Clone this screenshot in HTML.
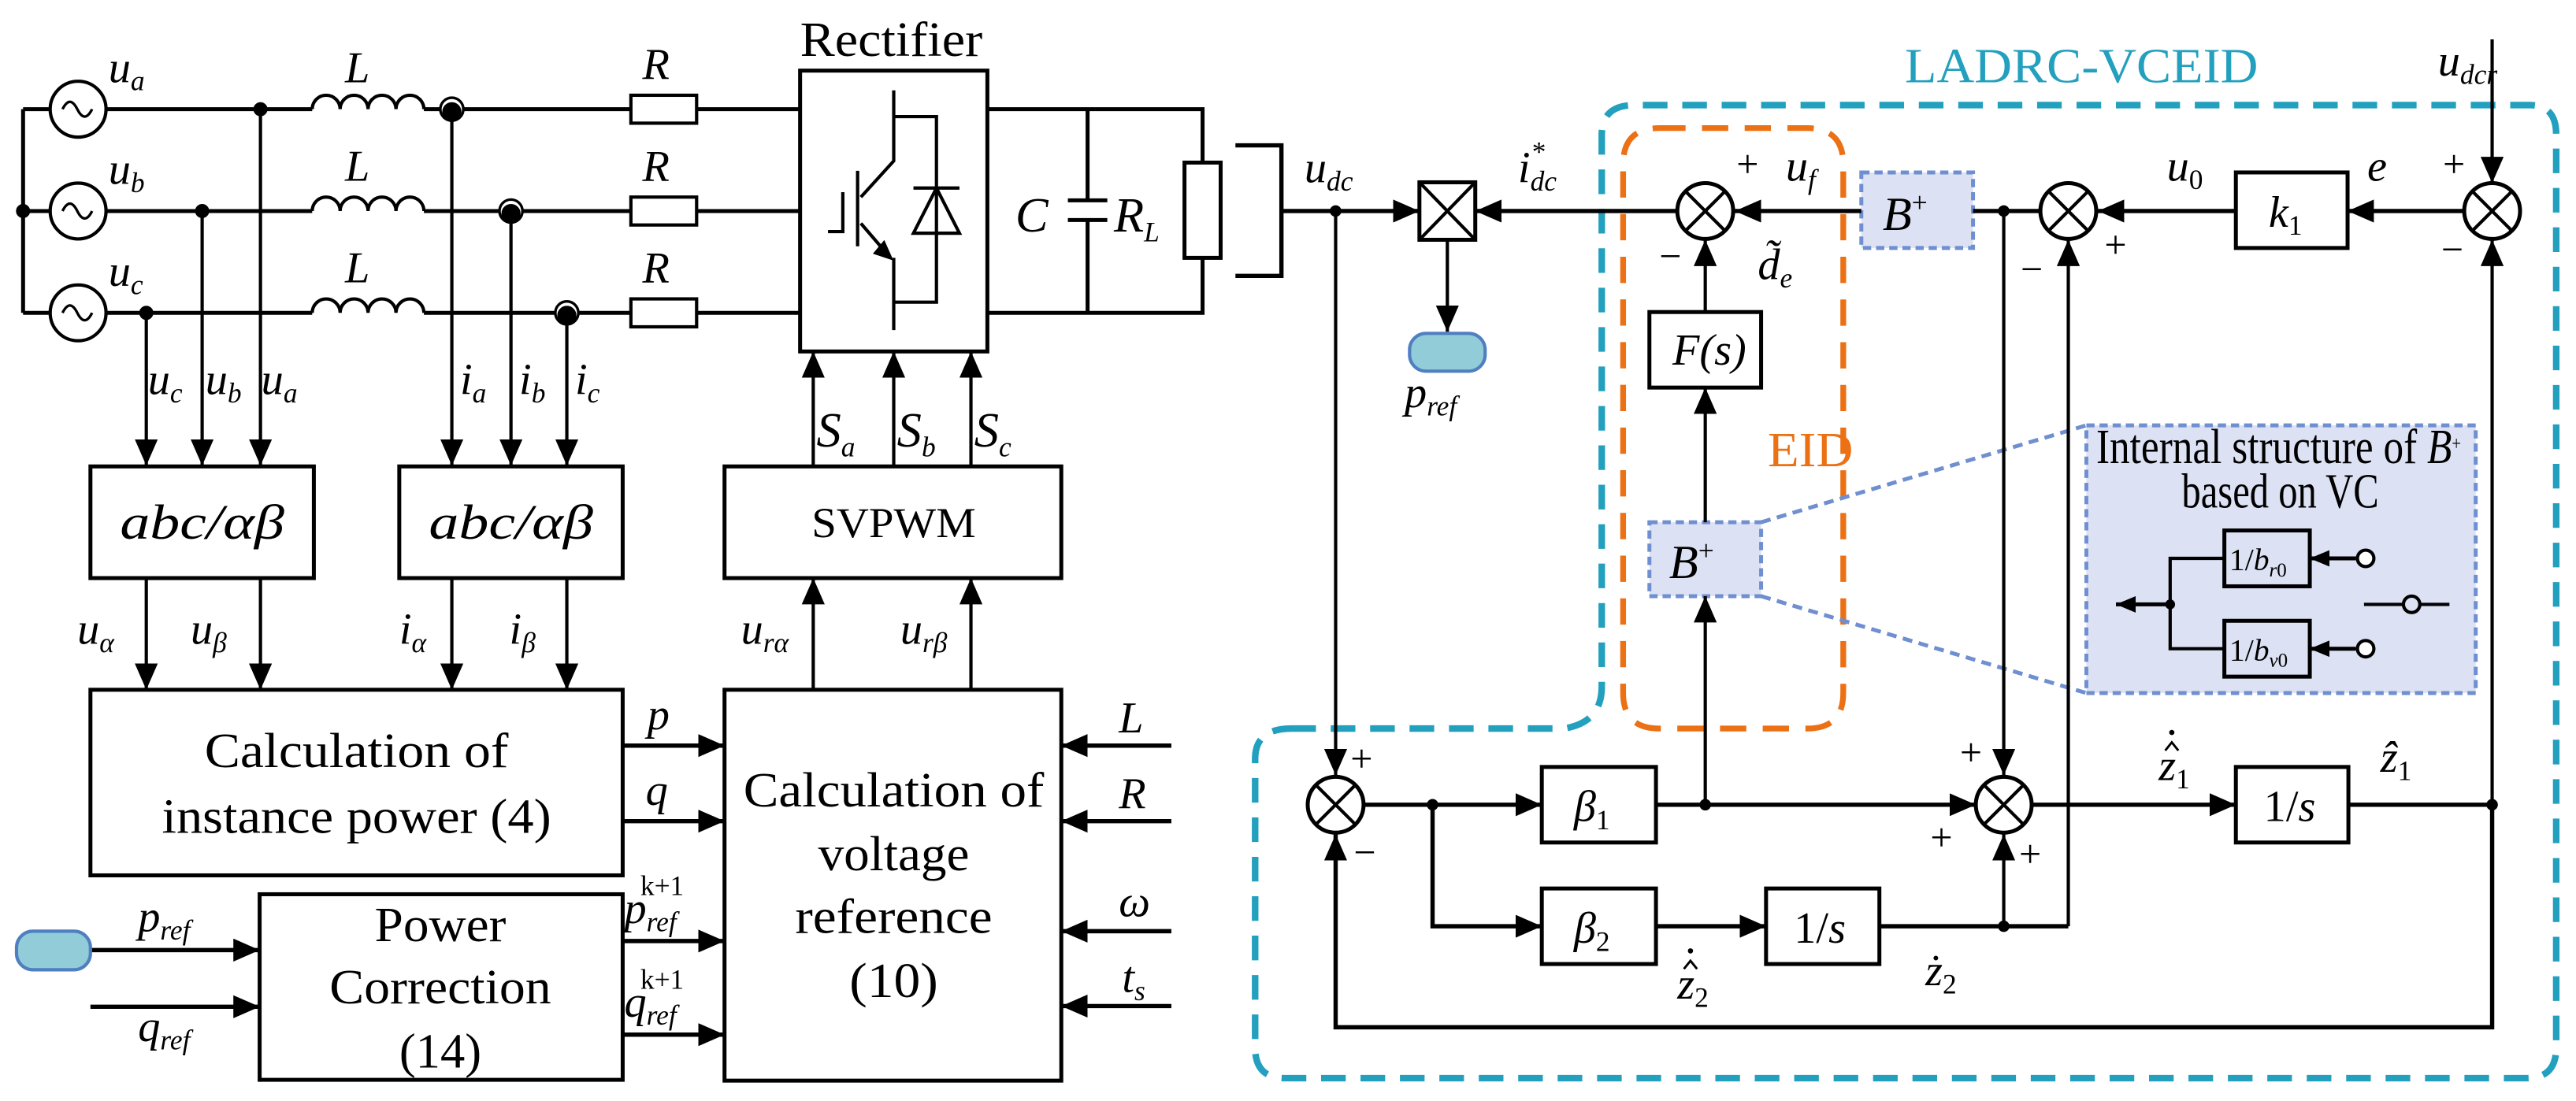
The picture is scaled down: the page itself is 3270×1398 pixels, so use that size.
<!DOCTYPE html>
<html><head><meta charset="utf-8"><style>
html,body{margin:0;padding:0;background:#fff}
svg{display:block}
.m{font-family:"Liberation Serif",serif;font-style:italic;font-size:27px}
.s{font-size:17px}
.t{font-family:"Liberation Serif",serif;font-size:30px}
</style></head><body>
<svg width="3270" height="1398" viewBox="0 0 1568 670.4" xmlns="http://www.w3.org/2000/svg">
<defs>
<marker id="a" markerWidth="16" markerHeight="14" refX="16" refY="7" orient="auto" markerUnits="userSpaceOnUse"><path d="M0,0 L16,7 L0,14z" fill="#000"/></marker>
<marker id="b" markerWidth="12" markerHeight="10" refX="12" refY="5" orient="auto" markerUnits="userSpaceOnUse"><path d="M0,0 L12,5 L0,10z" fill="#000"/></marker>
</defs>
<g fill="none" stroke="#000" stroke-width="2">
<path d="M14,66.5 V190.5 M14,66.5 H190 M258,66.5 H384 M424,66.5 H487 M14,128.5 H190 M258,128.5 H384 M424,128.5 H487 M14,190.5 H190 M258,190.5 H384 M424,190.5 H487" stroke-width="2.4"/>
<circle cx="47.5" cy="66.5" r="17" fill="#fff"/><circle cx="47.5" cy="128.5" r="17" fill="#fff"/><circle cx="47.5" cy="190.5" r="17" fill="#fff"/>
<path d="M38,66.5 q4.5,-9 9,0 t9,0 M38,128.5 q4.5,-9 9,0 t9,0 M38,190.5 q4.5,-9 9,0 t9,0" stroke-width="1.6"/>
<path d="M190,66.5 a8.5,8.5 0 0 1 17,0 a8.5,8.5 0 0 1 17,0 a8.5,8.5 0 0 1 17,0 a8.5,8.5 0 0 1 17,0"/>
<path d="M190,128.5 a8.5,8.5 0 0 1 17,0 a8.5,8.5 0 0 1 17,0 a8.5,8.5 0 0 1 17,0 a8.5,8.5 0 0 1 17,0"/>
<path d="M190,190.5 a8.5,8.5 0 0 1 17,0 a8.5,8.5 0 0 1 17,0 a8.5,8.5 0 0 1 17,0 a8.5,8.5 0 0 1 17,0"/>
<rect x="384" y="58" width="40" height="17" fill="#fff"/><rect x="384" y="120" width="40" height="17" fill="#fff"/><rect x="384" y="182" width="40" height="17" fill="#fff"/>
<g marker-end="url(#a)">
<path d="M158.5,66.5 V283.5"/><path d="M123,128.5 V283.5"/><path d="M89,190.5 V283.5"/>
<path d="M275,66.5 V283.5"/><path d="M311,128.5 V283.5"/><path d="M345,190.5 V283.5"/>
<path d="M495,284 V214"/><path d="M544,284 V214"/><path d="M591,284 V214"/>
<path d="M89,352 V420"/><path d="M158.5,352 V420"/><path d="M275,352 V420"/><path d="M345,352 V420"/>
<path d="M495,420 V352"/><path d="M591,420 V352"/>
</g>
<rect x="487" y="43" width="114" height="171" stroke-width="2.4"/>
<path d="M544,55 V98 L524,120 M522,104 V150 M513,117 V141 H504 M524,136 L542,157 M544,157 V201 M544,71 H570 V184 H544 M556,114.5 H584 M570,114.5 L556,142 H584 Z"/>
<path d="M542,157 l-9,-3 l5,-6 z" fill="#000"/>
<path d="M601,66.5 H732 V99 M732,157 V190.5 H601 M662,66.5 V122 M662,134 V190.5 M650,122 H674 M650,134 H674" stroke-width="2.4"/>
<rect x="721" y="99" width="22" height="58" fill="#fff" stroke-width="2.4"/>
<path d="M752,88.5 H780 V168 H752" stroke-width="2.6"/>
<rect x="55" y="284" width="136" height="68" stroke-width="2.4"/>
<rect x="243" y="284" width="136" height="68" stroke-width="2.4"/>
<rect x="441" y="284" width="205" height="68" stroke-width="2.4"/>
<rect x="55" y="420" width="324" height="113" stroke-width="2.4"/>
<rect x="441" y="420" width="205" height="238" stroke-width="2.4"/>
<rect x="158" y="544.5" width="221" height="113" stroke-width="2.4"/>
<g stroke-width="2.6" marker-end="url(#a)">
<path d="M379,454 H441"/><path d="M379,500 H441"/><path d="M379,573 H441"/><path d="M379,630 H441"/>
<path d="M713,454 H646"/><path d="M713,500 H646"/><path d="M713,567 H646"/><path d="M713,612.6 H646"/>
<path d="M55,578.5 H158"/><path d="M55,613 H158"/>
</g>
</g>
<g stroke="#000" stroke-width="1.6">
<circle cx="158.5" cy="66.5" r="3.5" fill="#000"/><circle cx="123" cy="128.5" r="3.5" fill="#000"/><circle cx="89" cy="190.5" r="3.5" fill="#000"/><circle cx="14" cy="128.5" r="3.5" fill="#000"/>
<circle cx="275" cy="66.5" r="7" fill="#fff"/><circle cx="275" cy="68" r="5" fill="#000"/>
<circle cx="311" cy="128.5" r="7" fill="#fff"/><circle cx="311" cy="130" r="5" fill="#000"/>
<circle cx="345" cy="190.5" r="7" fill="#fff"/><circle cx="345" cy="192" r="5" fill="#000"/>
</g>
<rect x="10" y="567" width="45" height="23.5" rx="10" fill="#92ccd9" stroke="#4f7fc0" stroke-width="2"/>
<text x="487" y="34" class="t" font-size="25" textLength="111" lengthAdjust="spacingAndGlyphs">Rectifier</text>
<g class="m">
<text x="66" y="50">u<tspan class="s" dy="5">a</tspan></text>
<text x="66" y="112">u<tspan class="s" dy="5">b</tspan></text>
<text x="66" y="174">u<tspan class="s" dy="5">c</tspan></text>
<text x="210" y="50">L</text><text x="210" y="110">L</text><text x="210" y="172">L</text>
<text x="391" y="48">R</text><text x="391" y="110">R</text><text x="391" y="172">R</text>
<text x="618" y="141" font-size="30">C</text>
<text x="678" y="141" font-size="30">R<tspan class="s" dy="6">L</tspan></text>
<text x="90" y="240">u<tspan class="s" dy="5">c</tspan></text>
<text x="125" y="240">u<tspan class="s" dy="5">b</tspan></text>
<text x="159" y="240">u<tspan class="s" dy="5">a</tspan></text>
<text x="280" y="240">i<tspan class="s" dy="5">a</tspan></text>
<text x="316" y="240">i<tspan class="s" dy="5">b</tspan></text>
<text x="350" y="240">i<tspan class="s" dy="5">c</tspan></text>
<text x="497" y="272" font-size="30">S<tspan class="s" dy="6">a</tspan></text>
<text x="546" y="272" font-size="30">S<tspan class="s" dy="6">b</tspan></text>
<text x="593" y="272" font-size="30">S<tspan class="s" dy="6">c</tspan></text>
<text x="47" y="392">u<tspan class="s" dy="5">α</tspan></text>
<text x="116" y="392">u<tspan class="s" dy="5">β</tspan></text>
<text x="243" y="392">i<tspan class="s" dy="5">α</tspan></text>
<text x="310" y="392">i<tspan class="s" dy="5">β</tspan></text>
<text x="451" y="392">u<tspan class="s" dy="5">rα</tspan></text>
<text x="548" y="392">u<tspan class="s" dy="5">rβ</tspan></text>
<text x="394" y="444">p</text><text x="393" y="490">q</text>
<text x="380" y="562">p<tspan class="s" dy="5">ref</tspan><tspan class="s" font-style="normal" dx="-22" dy="-22">k+1</tspan></text>
<text x="380" y="619">q<tspan class="s" dy="5">ref</tspan><tspan class="s" font-style="normal" dx="-22" dy="-22">k+1</tspan></text>
<text x="84" y="567">p<tspan class="s" dy="5">ref</tspan></text>
<text x="84" y="634">q<tspan class="s" dy="5">ref</tspan></text>
<text x="681" y="446">L</text><text x="681" y="492">R</text><text x="681" y="558">ω</text><text x="683" y="604">t<tspan class="s" dy="5">s</tspan></text>
</g>
<g class="t" text-anchor="middle">
<text x="123" y="328" font-style="italic" font-size="30" textLength="100" lengthAdjust="spacingAndGlyphs">abc/αβ</text>
<text x="311" y="328" font-style="italic" font-size="30" textLength="100" lengthAdjust="spacingAndGlyphs">abc/αβ</text>
<text x="544" y="327" font-size="26" textLength="100" lengthAdjust="spacingAndGlyphs">SVPWM</text>
<text x="217" y="467" textLength="185" lengthAdjust="spacingAndGlyphs">Calculation of</text>
<text x="217" y="507" textLength="237" lengthAdjust="spacingAndGlyphs">instance power (4)</text>
<text x="544" y="491" textLength="183" lengthAdjust="spacingAndGlyphs">Calculation of</text>
<text x="544" y="530" textLength="92" lengthAdjust="spacingAndGlyphs">voltage</text>
<text x="544" y="568" textLength="120" lengthAdjust="spacingAndGlyphs">reference</text>
<text x="544" y="607" textLength="54" lengthAdjust="spacingAndGlyphs">(10)</text>
<text x="268" y="573" textLength="80" lengthAdjust="spacingAndGlyphs">Power</text>
<text x="268" y="611" textLength="135" lengthAdjust="spacingAndGlyphs">Correction</text>
<text x="268" y="650" textLength="50" lengthAdjust="spacingAndGlyphs">(14)</text>
</g>

<!-- RIGHT PART -->
<path d="M786,443.6 H952 Q975,440 975,418 V82 Q975,64 995,64 H1540 Q1556,64 1556,82 V638 Q1556,656.5 1538,656.5 H782 Q764,656.5 764,638 V462 Q764,443.6 786,443.6" fill="none" stroke="#22a0be" stroke-width="4" stroke-dasharray="15,9"/>
<path d="M1010,78 H1100 Q1122,78 1122,100 V422 Q1122,443.6 1100,443.6 H1010 Q988,443.6 988,422 V100 Q988,78 1010,78" fill="none" stroke="#ec7014" stroke-width="3.5" stroke-dasharray="16,10"/>
<text x="1267" y="50" class="t" fill="#22a0be" text-anchor="middle" textLength="215" lengthAdjust="spacingAndGlyphs">LADRC-VCEID</text>
<text x="1076" y="284" class="t" fill="#ec7014" font-size="28" textLength="52" lengthAdjust="spacingAndGlyphs">EID</text>
<path d="M1072,318 L1270,259 M1072,363 L1270,422" stroke="#6f8fd0" stroke-width="2.4" stroke-dasharray="6,4"/>
<rect x="1270" y="259" width="237" height="163" fill="#dce1f3" stroke="#6f8fd0" stroke-width="2.4" stroke-dasharray="5,3"/>
<rect x="1133" y="105" width="68" height="46" fill="#dce1f3" stroke="#6f8fd0" stroke-width="2.4" stroke-dasharray="5,3"/>
<rect x="1004" y="318" width="68" height="45" fill="#dce1f3" stroke="#6f8fd0" stroke-width="2.4" stroke-dasharray="5,3"/>
<g fill="none" stroke="#000" stroke-width="2">
<g stroke-width="2.6" marker-end="url(#a)">
<path d="M780,128.5 H864"/><path d="M1133,128.5 H1056"/><path d="M1021,128.5 H898"/>
<path d="M1201,128.5 H1277"/><path d="M1361,128.5 H1277"/><path d="M1500,128.5 H1429"/>
</g>
<g marker-end="url(#a)">
<path d="M1517,24 V111.5"/><path d="M881,146 V202"/>
<path d="M1038,190 V146"/><path d="M1038,318 V236"/><path d="M1038,490 V363"/>
<path d="M1259,564 V146"/><path d="M1517,490 V146"/><path d="M813,128.5 V472"/><path d="M1219.7,128.5 V472"/><path d="M1219.7,564 V508"/>
</g>
<path d="M1517,490 V625.5 H813 V508" stroke-width="2.6" marker-end="url(#a)"/>
<rect x="864" y="111" width="34" height="35" stroke-width="2.4" fill="#fff"/>
<path d="M864,111 L898,146 M898,111 L864,146"/>
<rect x="1004" y="190" width="68" height="46" stroke-width="2.4"/>
<rect x="1361" y="105" width="68" height="46" stroke-width="2.4"/>
<circle cx="1038" cy="128.5" r="17" fill="#fff" stroke-width="2.4"/>
<circle cx="1259" cy="128.5" r="17" fill="#fff" stroke-width="2.4"/>
<circle cx="1517" cy="128.5" r="17" fill="#fff" stroke-width="2.4"/>
<circle cx="813" cy="490" r="17" fill="#fff" stroke-width="2.4"/>
<circle cx="1219.7" cy="490" r="17" fill="#fff" stroke-width="2.4"/>
<path d="M1026,116.5 l24,24 M1050,116.5 l-24,24 M1247,116.5 l24,24 M1271,116.5 l-24,24 M1505,116.5 l24,24 M1529,116.5 l-24,24 M801,478 l24,24 M825,478 l-24,24 M1207.7,478 l24,24 M1231.7,478 l-24,24"/>
<g stroke-width="2.6" marker-end="url(#a)">
<path d="M830,490 H938.5"/><path d="M1008,490 H1202.7"/><path d="M1237,490 H1361"/><path d="M872,490 V564 H938.5"/><path d="M1008,564 H1075"/>
</g>
<path d="M1429,490 H1517 M1144,564 H1259" stroke-width="2.6"/>
<rect x="938.5" y="467" width="69.5" height="46" stroke-width="2.4"/>
<rect x="1361" y="467" width="68.5" height="46" stroke-width="2.4"/>
<rect x="938.5" y="541" width="69.5" height="46" stroke-width="2.4"/>
<rect x="1075" y="541" width="69" height="46" stroke-width="2.4"/>
<rect x="1354" y="323" width="52" height="34" stroke-width="2.4"/>
<rect x="1354" y="378" width="52" height="34" stroke-width="2.4"/>
<path d="M1354,340 H1321 V395 H1354"/>
<path d="M1321,368 H1288" stroke-width="2.4" marker-end="url(#b)"/>
<path d="M1434,340 H1406" stroke-width="2.4" marker-end="url(#b)"/>
<path d="M1434,395 H1406" stroke-width="2.4" marker-end="url(#b)"/>
<circle cx="1440" cy="340" r="5" fill="#fff"/><circle cx="1440" cy="395" r="5" fill="#fff"/>
<path d="M1439,368 H1491"/><circle cx="1468" cy="368" r="5" fill="#dce1f3"/>
<path d="M1318,457 l4,-5 l4,5 M1025,590 l4,-5 l4,5" stroke-width="1.4"/>
</g>
<g fill="#000"><circle cx="813" cy="128.5" r="3.5"/><circle cx="1219.7" cy="128.5" r="3.5"/><circle cx="872" cy="490" r="3.5"/><circle cx="1038" cy="490" r="3.5"/><circle cx="1517" cy="490" r="3.5"/><circle cx="1219.7" cy="564" r="3.5"/><circle cx="1321" cy="368" r="3"/>
<circle cx="1322" cy="446" r="1.6"/><circle cx="1029" cy="579" r="1.6"/></g>
<rect x="858" y="203" width="46" height="23" rx="10" fill="#92ccd9" stroke="#4f7fc0" stroke-width="2"/>
<g class="m">
<text x="794" y="111">u<tspan class="s" dy="5">dc</tspan></text>
<text x="924" y="111">i<tspan class="s" dy="5">dc</tspan><tspan class="s" font-style="normal" dx="-15" dy="-18">*</tspan></text>
<text x="855" y="248">p<tspan class="s" dy="5">ref</tspan></text>
<text x="1087" y="110">u<tspan class="s" dy="5">f</tspan></text>
<text x="1057" y="108" font-style="normal" font-size="24">+</text>
<text x="1010" y="164" font-style="normal" font-size="24">−</text>
<text x="1070" y="170">d̃<tspan class="s" dy="5">e</tspan></text>
<text x="1018" y="222">F(s)</text>
<text x="1146" y="140" font-size="29">B<tspan class="s" font-style="normal" dy="-11">+</tspan></text>
<text x="1016" y="352" font-size="29">B<tspan class="s" font-style="normal" dy="-11">+</tspan></text>
<text x="1319" y="110">u<tspan class="s" font-style="normal" dy="5">0</tspan></text>
<text x="1381" y="138">k<tspan class="s" font-style="normal" dy="5">1</tspan></text>
<text x="1441" y="110">e</text>
<text x="1484" y="46">u<tspan class="s" dy="5">dcr</tspan></text>
<text x="1487" y="108" font-style="normal" font-size="24">+</text>
<text x="1486" y="160" font-style="normal" font-size="24">−</text>
<text x="1281" y="157" font-style="normal" font-size="24">+</text>
<text x="1230" y="172" font-style="normal" font-size="24">−</text>
<text x="822" y="470" font-style="normal" font-size="24">+</text>
<text x="824" y="527" font-style="normal" font-size="24">−</text>
<text x="1193" y="466" font-style="normal" font-size="24">+</text>
<text x="1175" y="518" font-style="normal" font-size="24">+</text>
<text x="1229" y="528" font-style="normal" font-size="24">+</text>
<text x="958" y="500">β<tspan class="s" font-style="normal" dy="5">1</tspan></text>
<text x="958" y="574">β<tspan class="s" font-style="normal" dy="5">2</tspan></text>
<text x="1378" y="500" font-style="normal">1/<tspan font-style="italic">s</tspan></text>
<text x="1092" y="574" font-style="normal">1/<tspan font-style="italic">s</tspan></text>
<text x="1314" y="475">z<tspan class="s" font-style="normal" dy="5">1</tspan></text>
<text x="1449" y="470">ẑ<tspan class="s" font-style="normal" dy="5">1</tspan></text>
<text x="1021" y="608">z<tspan class="s" font-style="normal" dy="5">2</tspan></text>
<text x="1172" y="600">ż<tspan class="s" font-style="normal" dy="5">2</tspan></text>
<text x="1357" y="347" font-style="normal" font-size="19">1/<tspan font-style="italic">b</tspan><tspan font-size="12" font-style="italic" dy="4">r</tspan><tspan font-size="12" dy="0">0</tspan></text>
<text x="1357" y="402" font-style="normal" font-size="19">1/<tspan font-style="italic">b</tspan><tspan font-size="12" font-style="italic" dy="4">v</tspan><tspan font-size="12" dy="0">0</tspan></text>
</g>
<text x="1276" y="282" class="t" font-size="21" textLength="222" lengthAdjust="spacingAndGlyphs">Internal structure of <tspan font-style="italic">B</tspan><tspan font-size="12" dy="-8">+</tspan></text>
<text x="1388" y="309" class="t" font-size="21" text-anchor="middle" textLength="120" lengthAdjust="spacingAndGlyphs">based on VC</text>
</svg>
</body></html>
